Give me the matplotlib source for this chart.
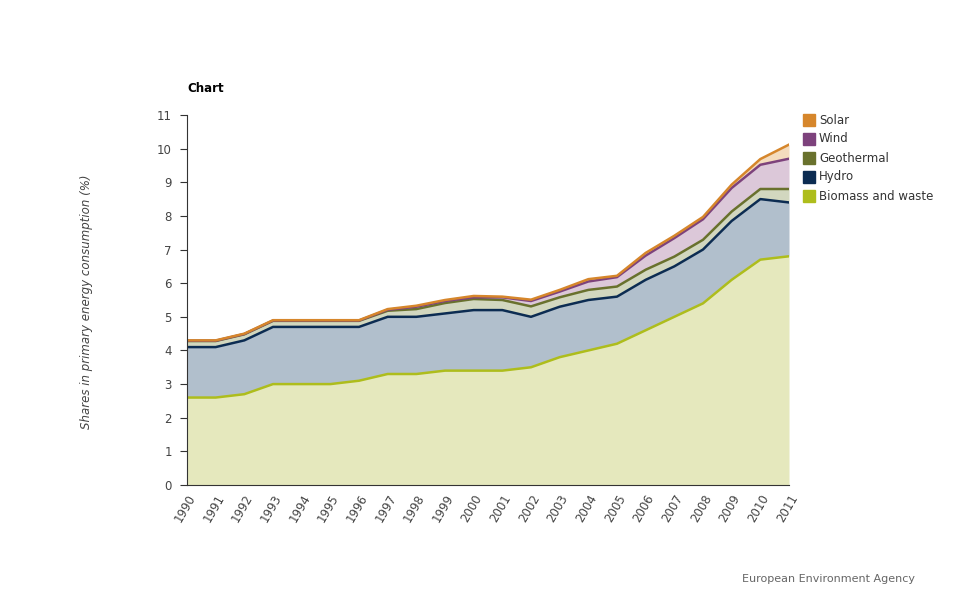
import numpy as np
import matplotlib
matplotlib.use("Agg")
import matplotlib.pyplot as plt

years = list(range(1990, 2012))
biomass = [2.6, 2.6, 2.7, 3.0, 3.0, 3.0, 3.1, 3.3, 3.3, 3.4, 3.4, 3.4, 3.5, 3.8, 4.0, 4.2, 4.6, 5.0, 5.4, 6.1, 6.7, 6.8]
hydro = [1.5, 1.5, 1.6, 1.7, 1.7, 1.7, 1.6, 1.7, 1.7, 1.7, 1.8, 1.8, 1.5, 1.5, 1.5, 1.4, 1.5, 1.5, 1.6, 1.75, 1.8, 1.6]
geothermal = [0.18, 0.18, 0.18, 0.18, 0.18, 0.18, 0.18, 0.18, 0.23, 0.31, 0.33, 0.3, 0.31, 0.28, 0.3, 0.3, 0.3, 0.29, 0.29, 0.28, 0.3, 0.4]
wind = [0.01, 0.01, 0.01, 0.01, 0.01, 0.01, 0.01, 0.03, 0.07, 0.06, 0.05, 0.08, 0.16, 0.17, 0.25, 0.28, 0.42, 0.55, 0.61, 0.7, 0.72, 0.9]
solar = [0.01, 0.01, 0.01, 0.01, 0.01, 0.01, 0.01, 0.02, 0.03, 0.03, 0.04, 0.02, 0.04, 0.05, 0.07, 0.04, 0.08, 0.07, 0.07, 0.1, 0.17, 0.42]

names = ["Biomass and waste", "Hydro", "Geothermal", "Wind", "Solar"]
line_colors = ["#aebd1c", "#0c2c52", "#69712d", "#7d427c", "#d6862b"]
fill_colors = ["#e5e8bd", "#b1bfcc", "#d2d7bf", "#dcc8d9", "#f4dcbe"]
fs = 8.5

fig = plt.figure(figsize=(9.75, 6), dpi=100)
ax = fig.add_axes([187 / 975, 115 / 600, (789 - 187) / 975, (485 - 115) / 600])

series = [biomass, hydro, geothermal, wind, solar]
bottom = np.zeros(len(years))
tops = []
for vals, fc in zip(series, fill_colors):
    top = bottom + np.array(vals)
    ax.fill_between(years, bottom, top, color=fc, lw=0)
    tops.append(top)
    bottom = top

for top, lc in zip(tops, line_colors):
    ax.plot(years, top, color=lc, lw=1.8)

ax.set_xlim(1990, 2011)
ax.set_ylim(0, 11)
ax.set_yticks(range(0, 12))
ax.set_xticks(years)
ax.set_xticklabels([str(y) for y in years], rotation=60, ha="right",
                   rotation_mode="anchor", fontsize=fs, color="#444444")
ax.tick_params(axis="y", labelsize=fs, labelcolor="#444444", length=5, color="#333333", pad=6)
ax.tick_params(axis="x", length=0, pad=5)
for s in ["top", "right"]:
    ax.spines[s].set_visible(False)
for s in ["left", "bottom"]:
    ax.spines[s].set_color("#333333")

fig.text(187 / 975, 1 - 89 / 600, "Chart", fontsize=fs, fontweight="bold", va="center", ha="left")
fig.text(87 / 975, 1 - 302 / 600, "Shares in primary energy consumption (%)", rotation=90,
         fontsize=fs, style="italic", color="#444444", va="center", ha="center")

# legend
leg_items = list(zip(names, line_colors))[::-1]
for i, (name, c) in enumerate(leg_items):
    y = 120 + i * 19
    fig.patches.append(plt.Rectangle((803 / 975, 1 - (y + 6) / 600), 12 / 975, 12 / 600,
                                     transform=fig.transFigure, color=c))
    fig.text(819 / 975, 1 - y / 600, name, fontsize=fs, color="#333333", va="center", ha="left")

fig.text(915 / 975, 1 - 579 / 600, "European Environment Agency", fontsize=8,
         color="#666666", va="center", ha="right")

fig.savefig("out.png", dpi=100)
